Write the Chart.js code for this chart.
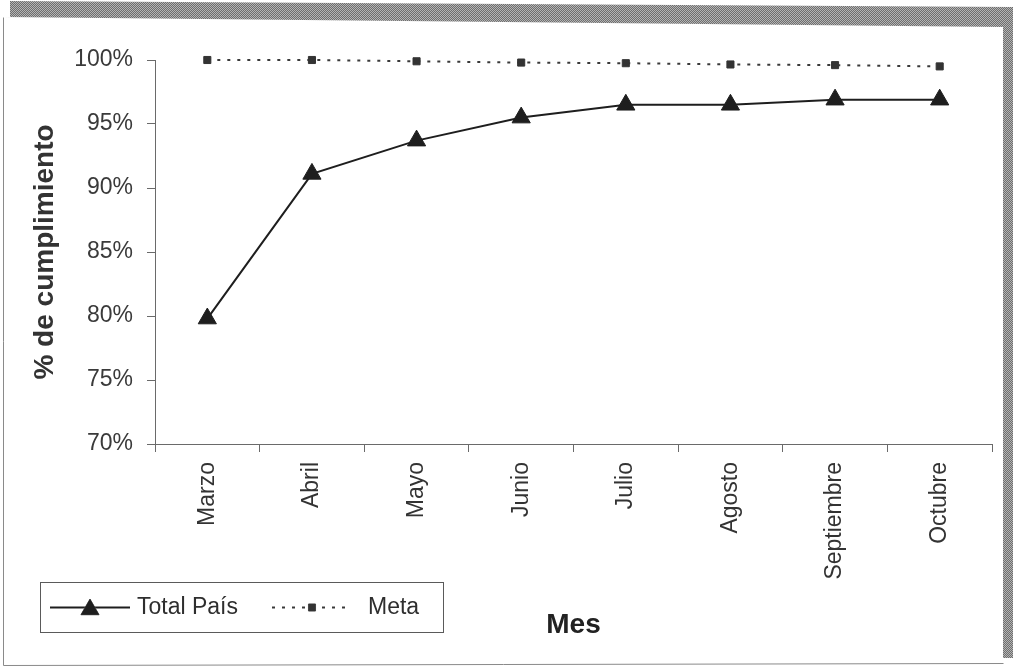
<!DOCTYPE html>
<html lang="es">
<head>
<meta charset="utf-8">
<title>% de cumplimiento por mes</title>
<script src="https://cdn.jsdelivr.net/npm/chart.js@4.4.1/dist/chart.umd.min.js"></script>
<style>
  html, body { margin: 0; padding: 0; background: #ffffff; }
  #wrap { width: 1013px; height: 669px; }
</style>
</head>
<body>
<div id="wrap"><canvas id="chart" width="1013" height="669"></canvas></div>
<script>
// Months on the horizontal axis
const months = ['Marzo', 'Abril', 'Mayo', 'Junio', 'Julio', 'Agosto', 'Septiembre', 'Octubre'];
// Cumulative compliance for the whole country (%)
const totalPais = [79.8, 91.1, 93.7, 95.5, 96.5, 96.5, 96.9, 96.9];
// Target line (%)
const meta = [100, 100, 99.9, 99.8, 99.75, 99.65, 99.6, 99.5];
// Vertical axis range and step (%)
const yMin = 70;
const yMax = 100;
const yStep = 5;

const FONT = '"Liberation Sans", Arial, Helvetica, sans-serif';

// Hatched grey drop shadow and thin border around the whole chart
function shadowPattern(ctx) {
  const c = document.createElement('canvas');
  c.width = 2; c.height = 2;
  const g = c.getContext('2d');
  g.fillStyle = '#6e6e6e'; g.fillRect(0, 0, 2, 2);
  g.fillStyle = '#b4b4b4'; g.fillRect(0, 0, 1, 1); g.fillRect(1, 1, 1, 1);
  return ctx.createPattern(c, 'repeat');
}

const framePlugin = {
  id: 'frame',
  beforeDraw(chart) {
    const ctx = chart.ctx;
    ctx.save();
    ctx.fillStyle = '#ffffff';
    ctx.fillRect(0, 0, chart.width, chart.height);
    ctx.fillStyle = shadowPattern(ctx);
    // top band
    ctx.beginPath();
    ctx.moveTo(10, 1); ctx.lineTo(1013, 7); ctx.lineTo(1013, 27);
    ctx.lineTo(1004, 27); ctx.lineTo(4, 17); ctx.lineTo(10, 17);
    ctx.closePath(); ctx.fill();
    // right band
    ctx.fillRect(1003, 10, 10, 648);
    // frame border
    ctx.strokeStyle = '#8a8a8a';
    ctx.lineWidth = 1;
    ctx.beginPath();
    ctx.moveTo(3.5, 17.5); ctx.lineTo(3.5, 665.5); ctx.lineTo(1003.5, 663.5);
    ctx.stroke();
    ctx.restore();
  }
};

// Legend drawn from the dataset styles: line sample with its marker, then the label
const legendPlugin = {
  id: 'boxLegend',
  afterDraw(chart) {
    const ctx = chart.ctx;
    const box = { x: 40.5, y: 582.5, w: 403, h: 50 };
    const cy = box.y + box.h / 2;
    ctx.save();
    ctx.strokeStyle = '#5a5a5a';
    ctx.lineWidth = 1;
    ctx.strokeRect(box.x, box.y, box.w, box.h);
    const items = [
      { ds: chart.data.datasets[0], x0: 50, x1: 130, tx: 137 },
      { ds: chart.data.datasets[1], x0: 272, x1: 352, tx: 368 }
    ];
    items.forEach(it => {
      const ds = it.ds;
      ctx.save();
      ctx.strokeStyle = ds.borderColor;
      ctx.lineWidth = ds.borderWidth;
      ctx.setLineDash(ds.borderDash || []);
      ctx.beginPath();
      ctx.moveTo(it.x0, cy); ctx.lineTo(it.x1, cy);
      ctx.stroke();
      ctx.restore();
      Chart.helpers.drawPoint(ctx, {
        pointStyle: ds.pointStyle,
        radius: ds.pointRadius,
        rotation: 0,
        borderWidth: 1
      }, (it.x0 + it.x1) / 2, cy + (ds.pointStyle === 'triangle' ? 2 : 0));
      ctx.fillStyle = ds.pointBackgroundColor;
      ctx.fill();
      ctx.fillStyle = '#2e2e2e';
      ctx.font = '23px ' + FONT;
      ctx.textBaseline = 'middle';
      ctx.textAlign = 'left';
      ctx.fillText(ds.label, it.tx, cy);
    });
    ctx.restore();
  }
};

new Chart(document.getElementById('chart'), {
  type: 'line',
  data: {
    labels: months,
    datasets: [
      {
        label: 'Total País',
        data: totalPais,
        borderColor: '#1e1e1e',
        borderWidth: 2,
        pointStyle: 'triangle',
        pointRadius: 10.5,
        pointHoverRadius: 10.5,
        pointBackgroundColor: '#1e1e1e',
        pointBorderColor: '#1e1e1e',
        pointBorderWidth: 1,
        tension: 0,
        clip: false
      },
      {
        label: 'Meta',
        data: meta,
        borderColor: '#3a3a3a',
        borderWidth: 2,
        borderDash: [3, 7],
        pointStyle: 'rect',
        pointRadius: 5,
        pointHoverRadius: 5,
        pointBackgroundColor: '#333333',
        pointBorderColor: '#333333',
        pointBorderWidth: 1,
        tension: 0,
        clip: false
      }
    ]
  },
  options: {
    responsive: false,
    animation: false,
    events: [],
    layout: { padding: { left: 24, right: 21, top: 60, bottom: 23 } },
    plugins: {
      legend: { display: false },
      tooltip: { enabled: false },
      title: { display: false }
    },
    scales: {
      x: {
        type: 'category',
        offset: true,
        grid: {
          offset: true,
          drawOnChartArea: false,
          drawTicks: true,
          tickLength: 8,
          color: '#6a6a6a'
        },
        border: { display: true, color: '#6a6a6a', width: 1 },
        ticks: {
          minRotation: 90,
          maxRotation: 90,
          autoSkip: false,
          padding: 10,
          color: '#333333',
          font: { family: FONT, size: 23 }
        },
        title: {
          display: true,
          text: 'Mes',
          color: '#222222',
          font: { family: FONT, size: 28, weight: 'bold' },
          padding: { top: 4, bottom: 4 }
        },
        afterFit(scale) { scale.height = 202; }
      },
      y: {
        min: yMin,
        max: yMax,
        grid: {
          drawOnChartArea: false,
          drawTicks: true,
          tickLength: 8,
          color: '#6a6a6a'
        },
        border: { display: true, color: '#6a6a6a', width: 1 },
        ticks: {
          stepSize: yStep,
          padding: 14,
          color: '#3a3a3a',
          font: { family: FONT, size: 23 },
          callback: v => v + '%'
        },
        title: {
          display: true,
          text: '% de cumplimiento',
          color: '#333333',
          font: { family: FONT, size: 28, weight: 'bold' },
          padding: { top: 4, bottom: 4 }
        },
        afterFit(scale) { scale.width = 131; }
      }
    }
  },
  plugins: [framePlugin, legendPlugin]
});
</script>
</body>
</html>
